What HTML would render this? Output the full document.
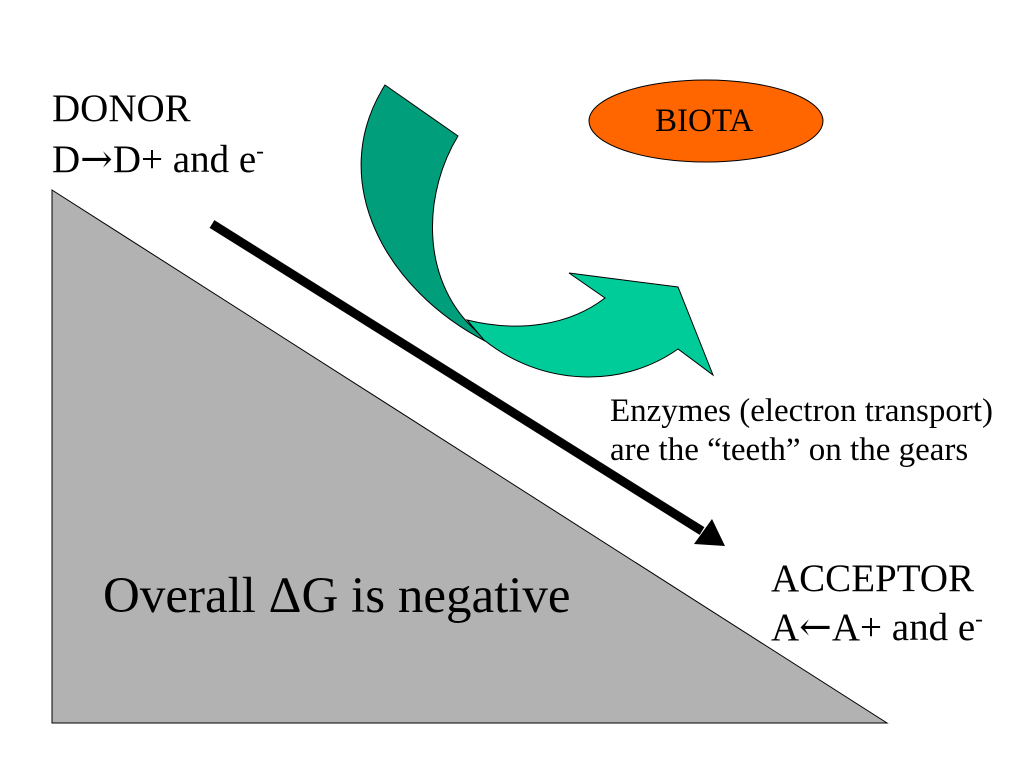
<!DOCTYPE html>
<html><head><style>
body{margin:0;width:1024px;height:768px;background:#fff;overflow:hidden;position:relative;font-family:"Liberation Serif",serif;}
.t{position:absolute;white-space:nowrap;color:#000;line-height:1;}
.a{font-family:"DejaVu Serif",serif;font-size:100%;}
sup{font-size:60%;vertical-align:0;position:relative;top:-0.6em;}
</style></head><body>
<svg width="1024" height="768" style="position:absolute;left:0;top:0">
<polygon points="52,190 52,723 887,723" fill="#b2b2b2" stroke="#000" stroke-width="1"/>
<line x1="212" y1="224" x2="702" y2="531" stroke="#000" stroke-width="9"/>
<polygon points="725,546 694,544 712,519" fill="#000"/>
<path d="M385,85 L458,136 C425,190 420,270 467,322 L487,342 C385,290 325,180 385,85 Z" fill="#009e7a" stroke="#000" stroke-width="1"/>
<path d="M467,320 C520,333 570,325 605,298 L569,273 L678,287 L713,375 L678,349 C620,390 540,385 484,340 Z" fill="#00cc99" stroke="#000" stroke-width="1"/>
<ellipse cx="706" cy="121" rx="117" ry="41" fill="#ff6600" stroke="#000" stroke-width="1"/>
</svg>
<div class="t" style="left:655px;top:105px;font-size:33px">BIOTA</div>
<div class="t" style="left:52px;top:89px;font-size:39px">DONOR</div>
<div class="t" style="left:52px;top:140px;font-size:39px">D<span class="a">→</span>D+ and e<sup>-</sup></div>
<div class="t" style="left:610px;top:395px;font-size:33px">Enzymes (electron transport)</div>
<div class="t" style="left:610px;top:434px;font-size:33px">are the “teeth” on the gears</div>
<div class="t" style="left:771px;top:559px;font-size:39px">ACCEPTOR</div>
<div class="t" style="left:771px;top:608px;font-size:39px">A<span class="a">←</span>A+ and e<sup>-</sup></div>
<div class="t" style="left:103px;top:571px;font-size:51px">Overall ΔG is negative</div>
</body></html>
